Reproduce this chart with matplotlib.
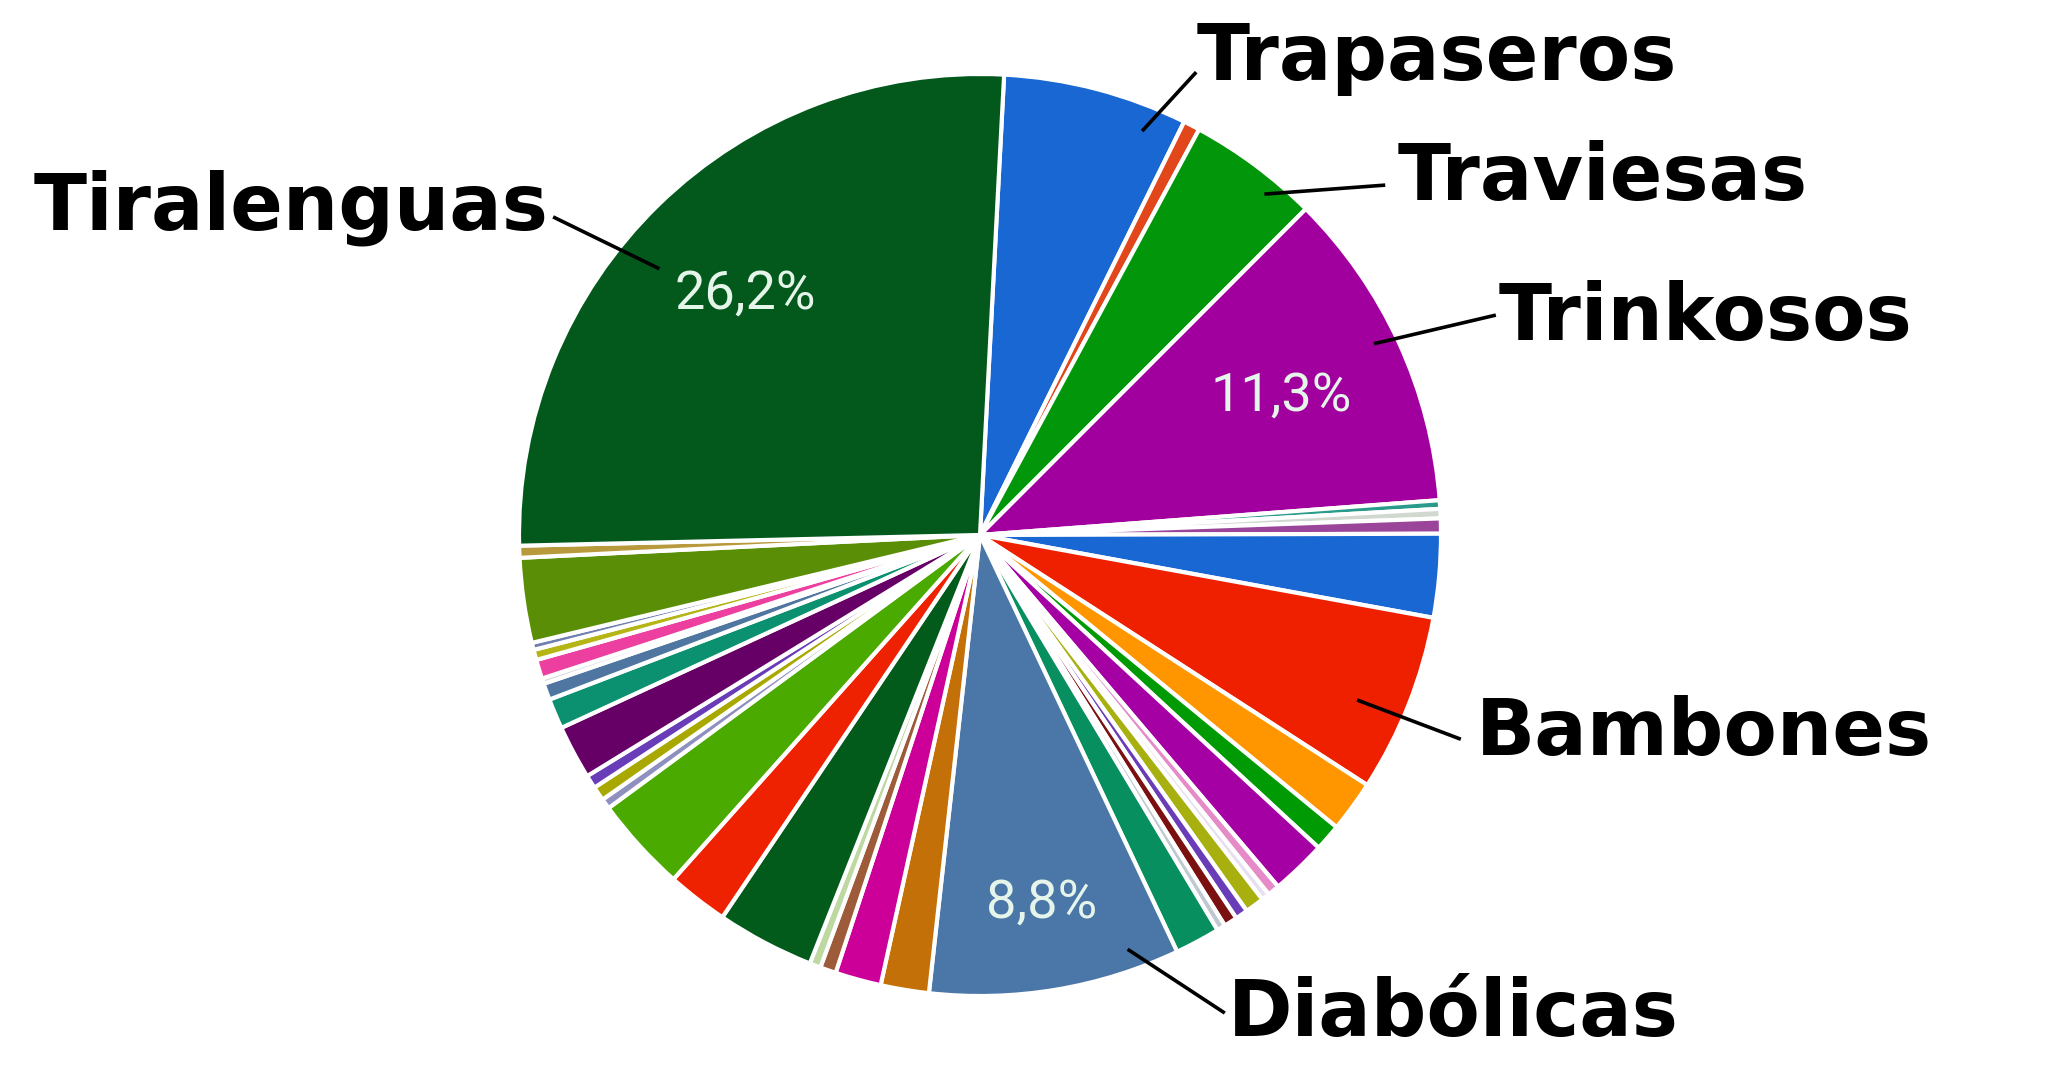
import numpy as np
import matplotlib
matplotlib.use("Agg")
import matplotlib.pyplot as plt

# slice shares in %, clockwise from 12 o'clock
shares = [6.47, 0.58, 4.61, 11.3, 0.30, 0.33, 0.53, 2.92, 6.25, 1.80,
          0.94, 1.94, 0.42, 0.28, 0.67, 0.44, 0.47, 0.30, 1.58, 8.8,
          1.69, 1.61, 0.56, 0.39, 3.42, 2.14, 3.33, 0.36, 0.50, 0.47,
          1.89, 1.06, 0.58, 0.19, 0.67, 0.36, 0.25, 2.97, 0.42, 26.2]

colors = ["#1967d2", "#e2471c", "#02960a", "#a2009e", "#2a9a8a", "#d0d8d0",
          "#9a449a", "#1967d2", "#ee2000", "#ff9600", "#009a05", "#a400a3",
          "#e58bc8", "#e8e0f0", "#a8b010", "#6a3db8", "#7b1010", "#c0c8d0",
          "#078f60", "#4a76a8", "#c47008", "#cc0099", "#9d5b39", "#bdd8a0",
          "#025a1b", "#ee2200", "#4aaa00", "#9090c0", "#a8a800", "#6a3db8",
          "#670066", "#0b9170", "#4e76a0", "#d8d8d8", "#ec3fa0", "#b5b515",
          "#6f7fb0", "#5a8e06", "#b89a3c", "#03591c"]

# named groups: index -> (name, anchor position inside wedge (from its start,
#                         clockwise), anchor radius, line end, text pos, align)
named = {
    0: ("Trapaseros", 0.81, 0.944, (0.469, 1.004), (0.47, 1.035), "left"),
    2: ("Traviesas", 0.69, 0.963, (0.879, 0.759), (0.905, 0.775), "left"),
    3: ("Trinkosos", 0.47, 0.950, (1.119, 0.477), (1.125, 0.47), "left"),
    8: ("Bambones", 0.59, 0.893, (1.043, -0.443), (1.075, -0.43), "left"),
    19: ("Diabólicas", 0.18, 0.954, (0.531, -1.037), (0.537, -1.04), "left"),
    39: ("Tiralenguas", 0.435, 0.904, (-0.926, 0.690), (-0.935, 0.71), "right"),
}
# radial distance of the percentage labels
pct_radius = {39: 0.73, 3: 0.72, 19: 0.81}

fig = plt.figure(figsize=(20.58, 10.8), dpi=100)
ax = fig.add_axes([0, 0, 1, 1])

def pct_label(p):
    return f"{p:.1f}%".replace(".", ",") if p > 8 else ""

wedges, _, autotexts = ax.pie(
    shares, colors=colors, startangle=87, counterclock=False,
    radius=1.0, autopct=pct_label, pctdistance=0.73,
    wedgeprops=dict(edgecolor="white", linewidth=3),
    textprops=dict(color="#e6f5ea", fontsize=39, family=["Roboto", "DejaVu Sans"]),
)

for idx, r in pct_radius.items():
    x, y = autotexts[idx].get_position()
    k = r / np.hypot(x, y)
    autotexts[idx].set_position((x * k, y * k))

for idx, (name, frac, r, end, txt, ha) in named.items():
    w = wedges[idx]
    ang = np.deg2rad(w.theta2 - frac * (w.theta2 - w.theta1))
    xa, ya = r * np.cos(ang), r * np.sin(ang)
    ax.plot([xa, end[0]], [ya, end[1]], color="black", lw=2.6,
            solid_capstyle="butt")
    ax.text(txt[0], txt[1], name, ha=ha, va="center",
            fontsize=56, fontweight="black", color="black",
            family=["DejaVu Sans"])

# circle of radius 1 -> 461 px, centre at (980, 535)
ax.set_xlim(-980 / 461, (2058 - 980) / 461)
ax.set_ylim(-(1080 - 535) / 461, 535 / 461)
ax.set_aspect("equal")
ax.axis("off")

fig.savefig("out.png", dpi=100, facecolor="white")
